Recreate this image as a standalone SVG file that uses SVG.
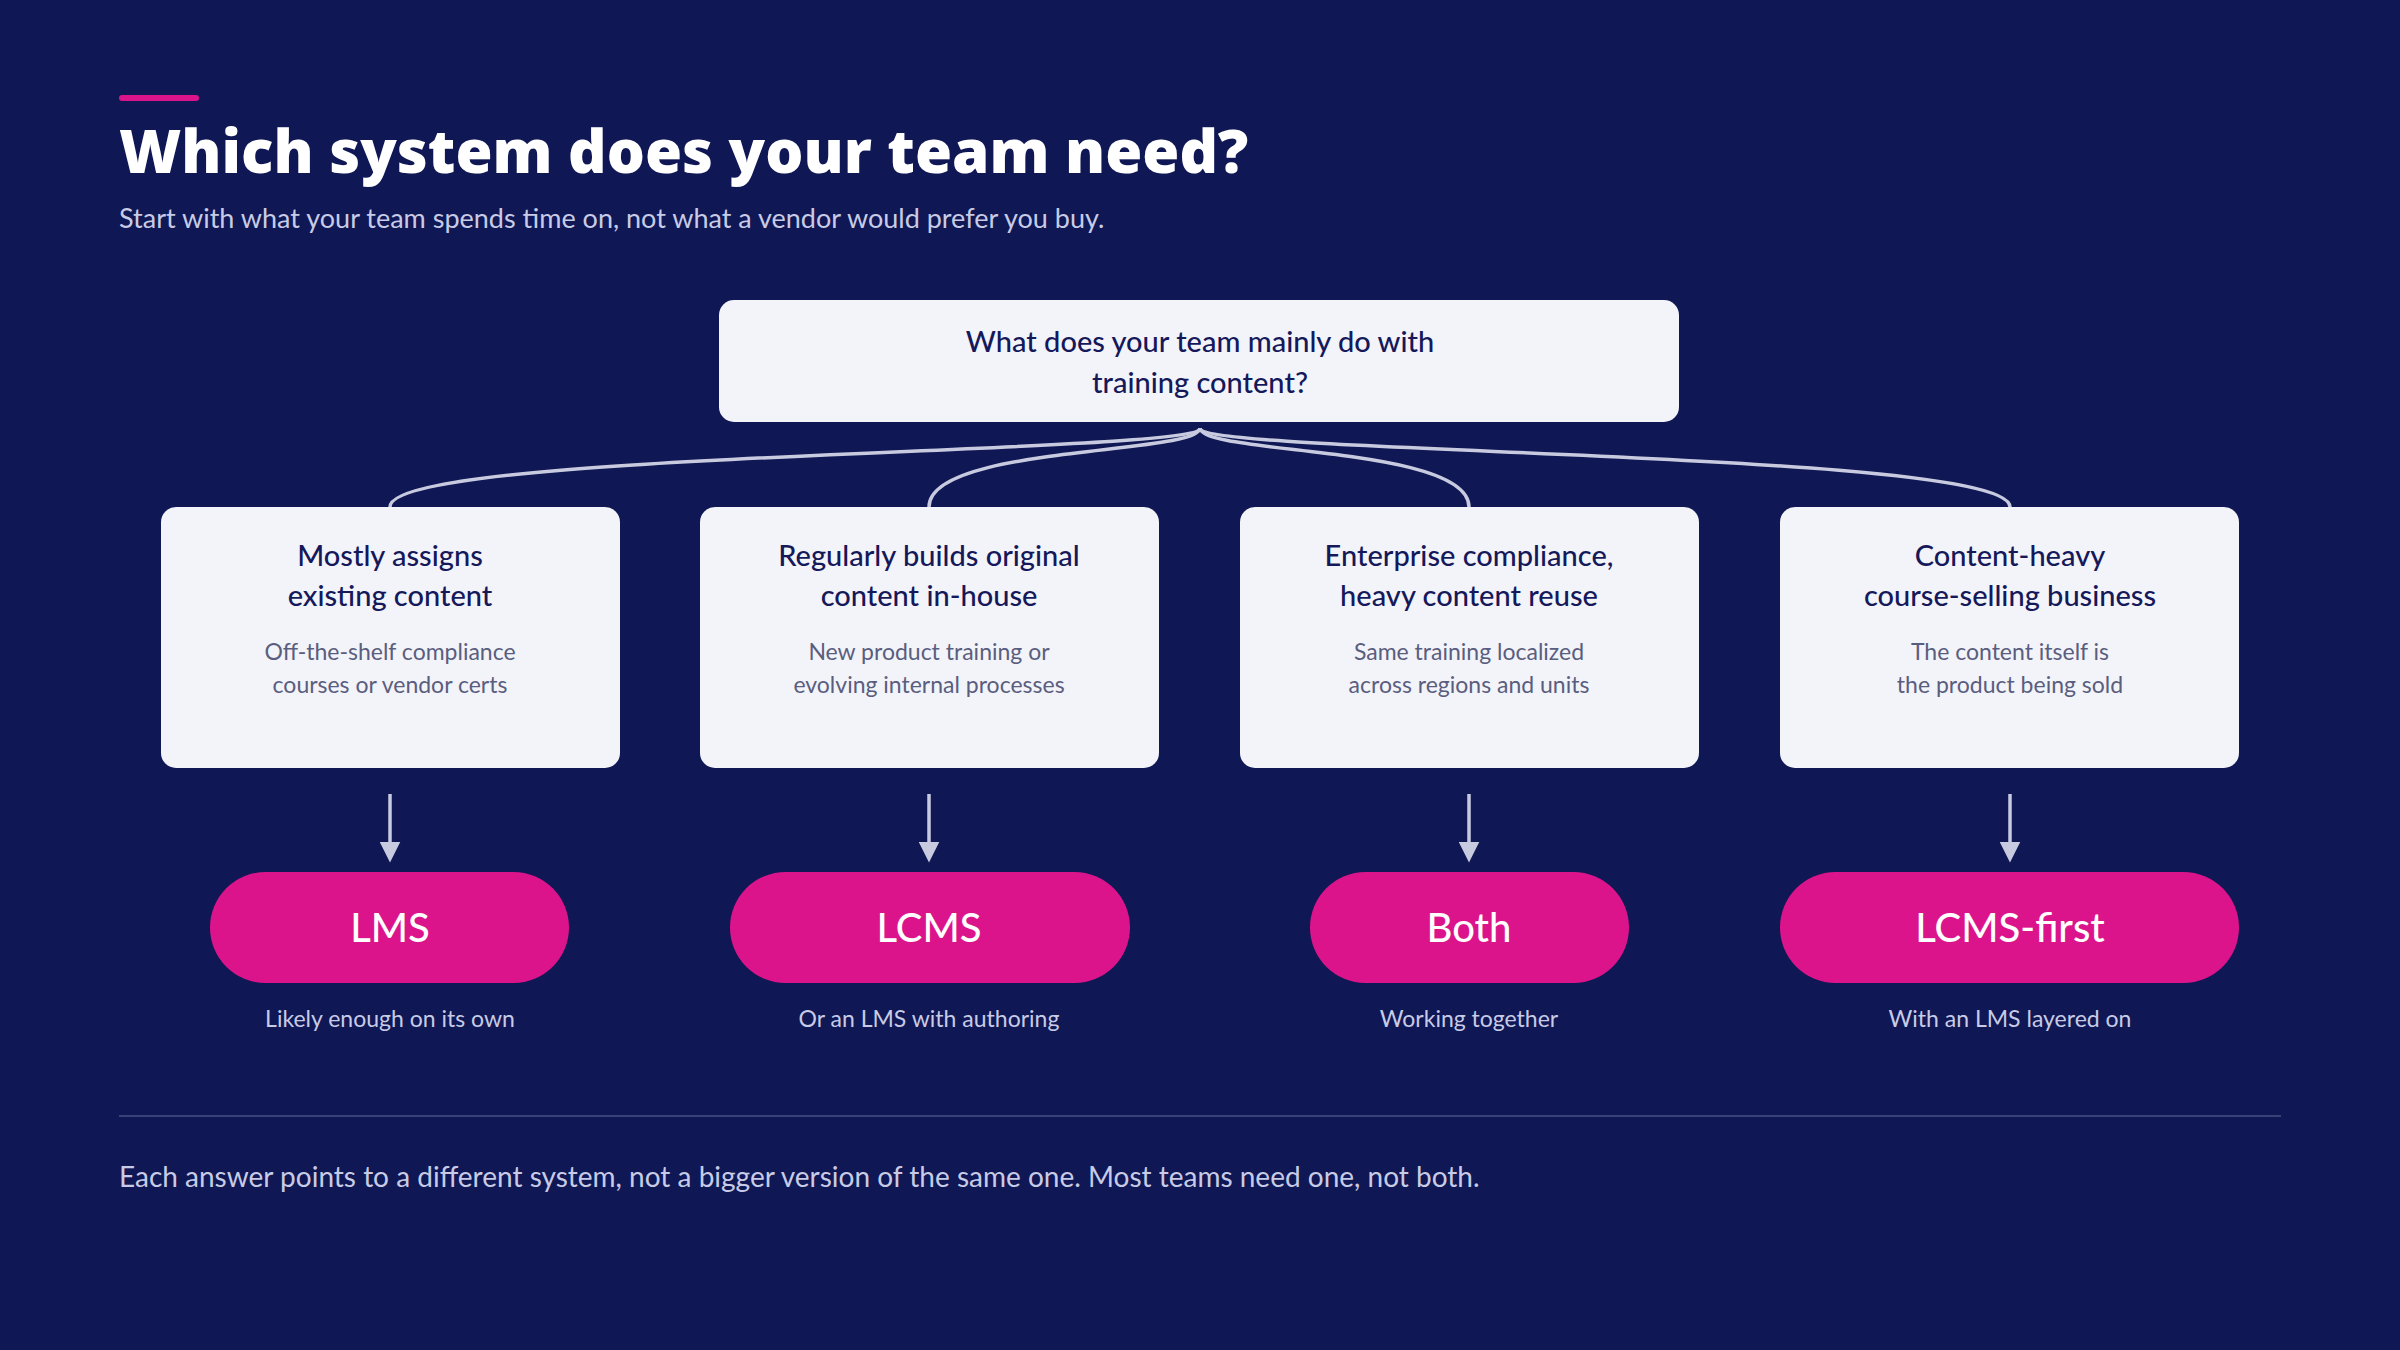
<svg xmlns="http://www.w3.org/2000/svg" width="2400" height="1350" viewBox="0 0 2400 1350">
<style>
.t{font-family:Lato,"Noto Sans",sans-serif}
.box{fill:#f3f3fa}
.ct{font-size:29px;fill:#15195a;text-anchor:middle;font-weight:500}
.cd{font-size:23px;fill:#5a5e7e;text-anchor:middle}
.pill{fill:#dc148c}
.pt{font-size:40px;fill:#fff;text-anchor:middle;font-weight:500}
.cap{font-size:23px;fill:#c8cbe6;text-anchor:middle}
.con{fill:none;stroke:#c8cbe0;stroke-width:3.5}
</style>
<defs><marker id="ah" viewBox="0 0 10 10" refX="5" refY="5" markerWidth="6" markerHeight="6" orient="auto"><path d="M0,0L10,5L0,10z" fill="#c8cbe0"/></marker></defs>
<rect width="2400" height="1350" fill="#0f1754"/>
<rect x="119" y="95" width="80" height="6" rx="3" fill="#dc148c"/>
<text x="119" y="173" font-family="'Open Sans',sans-serif" font-weight="800" font-size="60" fill="#fff">Which system does your team need?</text>
<text class="t" x="119" y="228" font-size="27" fill="#c8cbe6">Start with what your team spends time on, not what a vendor would prefer you buy.</text>
<g id="connectors">
<path class="con" d="M1200,428 C1200,455 390,450 390,507"/>
<path class="con" d="M1200,428 C1200,455 929,445 929,507"/>
<path class="con" d="M1200,428 C1200,455 1469,445 1469,507"/>
<path class="con" d="M1200,428 C1200,455 2010,450 2010,507"/>
<path class="con" d="M390,794V852" marker-end="url(#ah)"/>
<path class="con" d="M929,794V852" marker-end="url(#ah)"/>
<path class="con" d="M1469,794V852" marker-end="url(#ah)"/>
<path class="con" d="M2010,794V852" marker-end="url(#ah)"/>
</g>
<g id="q"><rect class="box" x="719" y="300" width="960" height="122" rx="15"/>
<text class="t ct" x="1200" y="352">What does your team mainly do with</text>
<text class="t ct" x="1200" y="393">training content?</text></g>
<g id="c1"><rect class="box" x="161" y="507" width="459" height="261" rx="15"/>
<text class="t ct" x="390" y="566">Mostly assigns</text><text class="t ct" x="390" y="606">existing content</text>
<text class="t cd" x="390" y="660">Off-the-shelf compliance</text><text class="t cd" x="390" y="693">courses or vendor certs</text></g>
<g id="c2"><rect class="box" x="700" y="507" width="459" height="261" rx="15"/>
<text class="t ct" x="929" y="566">Regularly builds original</text><text class="t ct" x="929" y="606">content in-house</text>
<text class="t cd" x="929" y="660">New product training or</text><text class="t cd" x="929" y="693">evolving internal processes</text></g>
<g id="c3"><rect class="box" x="1240" y="507" width="459" height="261" rx="15"/>
<text class="t ct" x="1469" y="566">Enterprise compliance,</text><text class="t ct" x="1469" y="606">heavy content reuse</text>
<text class="t cd" x="1469" y="660">Same training localized</text><text class="t cd" x="1469" y="693">across regions and units</text></g>
<g id="c4"><rect class="box" x="1780" y="507" width="459" height="261" rx="15"/>
<text class="t ct" x="2010" y="566">Content-heavy</text><text class="t ct" x="2010" y="606">course-selling business</text>
<text class="t cd" x="2010" y="660">The content itself is</text><text class="t cd" x="2010" y="693">the product being sold</text></g>
<g id="p1"><rect class="pill" x="210" y="872" width="359" height="111" rx="55.5"/><text class="t pt" x="390" y="942">LMS</text><text class="t cap" x="390" y="1027">Likely enough on its own</text></g>
<g id="p2"><rect class="pill" x="730" y="872" width="400" height="111" rx="55.5"/><text class="t pt" x="929" y="942">LCMS</text><text class="t cap" x="929" y="1027">Or an LMS with authoring</text></g>
<g id="p3"><rect class="pill" x="1310" y="872" width="319" height="111" rx="55.5"/><text class="t pt" x="1469" y="942">Both</text><text class="t cap" x="1469" y="1027">Working together</text></g>
<g id="p4"><rect class="pill" x="1780" y="872" width="459" height="111" rx="55.5"/><text class="t pt" x="2010" y="942">LCMS-first</text><text class="t cap" x="2010" y="1027">With an LMS layered on</text></g>
<line x1="119" y1="1116" x2="2281" y2="1116" stroke="#3a4178" stroke-width="2"/>
<text class="t" x="119" y="1187" font-size="28" fill="#c8cbe6">Each answer points to a different system, not a bigger version of the same one. Most teams need one, not both.</text>
</svg>
